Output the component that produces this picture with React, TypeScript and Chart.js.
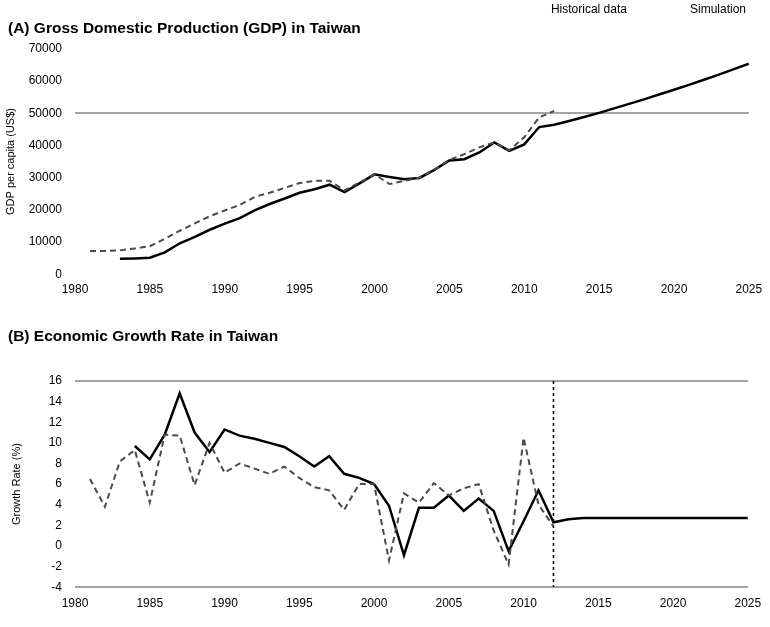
import React, { useEffect, useRef } from "react";
import { Chart, registerables } from "chart.js";

Chart.register(...registerables);

const FONT = "'Liberation Sans', Arial, sans-serif";

// ---------- Data ----------
const X_MIN = 1980;
const X_MAX = 2025;
const X_STEP = 5;

const HIST_GDP_YEARS = [
  1981, 1982, 1983, 1984, 1985, 1986, 1987, 1988, 1989, 1990, 1991, 1992, 1993, 1994, 1995, 1996,
  1997, 1998, 1999, 2000, 2001, 2002, 2003, 2004, 2005, 2006, 2007, 2008, 2009, 2010, 2011, 2012,
];
const HIST_GDP = [
  7200, 7200, 7400, 8000, 8700, 11000, 13500, 15800, 18000, 19800, 21500, 24000, 25300, 26800, 28300, 29000,
  29000, 26000, 28500, 31000, 28000, 29000, 30000, 32500, 35500, 37300, 39400, 40900, 38500, 42500, 48700, 50700,
];

const SIM_GDP_YEARS = [
  1983, 1984, 1985, 1986, 1987, 1988, 1989, 1990, 1991, 1992, 1993, 1994, 1995, 1996, 1997, 1998,
  1999, 2000, 2001, 2002, 2003, 2004, 2005, 2006, 2007, 2008, 2009, 2010, 2011, 2012, 2013, 2014,
  2015, 2016, 2017, 2018, 2019, 2020, 2021, 2022, 2023, 2024, 2025,
];
const SIM_GDP = [
  4800, 4900, 5100, 6800, 9600, 11600, 13800, 15700, 17400, 19800, 21800, 23500, 25300, 26400, 27800, 25500,
  28200, 31000, 30200, 29500, 29900, 32400, 35300, 35700, 37800, 40900, 38300, 40300, 45700, 46400, 47600, 48800,
  50100, 51500, 52900, 54300, 55800, 57300, 58800, 60400, 62000, 63700, 65400,
];

const HIST_GROWTH_YEARS = [
  1981, 1982, 1983, 1984, 1985, 1986, 1987, 1988, 1989, 1990, 1991, 1992, 1993, 1994, 1995, 1996,
  1997, 1998, 1999, 2000, 2001, 2002, 2003, 2004, 2005, 2006, 2007, 2008, 2009, 2010, 2011, 2012,
];
const HIST_GROWTH = [
  6.5, 3.8, 8.2, 9.3, 4.2, 10.8, 10.7, 5.9, 10.0, 7.1, 8.0, 7.5, 7.0, 7.7, 6.6, 5.7,
  5.4, 3.5, 6.0, 6.0, -1.4, 5.1, 4.2, 6.1, 4.9, 5.6, 6.0, 1.5, -1.8, 10.5, 4.0, 1.9,
];

const SIM_GROWTH_YEARS = [
  1984, 1985, 1986, 1987, 1988, 1989, 1990, 1991, 1992, 1993, 1994, 1995, 1996, 1997, 1998, 1999,
  2000, 2001, 2002, 2003, 2004, 2005, 2006, 2007, 2008, 2009, 2010, 2011, 2012, 2013, 2014, 2015,
  2016, 2017, 2018, 2019, 2020, 2021, 2022, 2023, 2024, 2025,
];
const SIM_GROWTH = [
  9.7, 8.4, 10.8, 14.8, 11.0, 9.1, 11.3, 10.7, 10.4, 10.0, 9.6, 8.7, 7.7, 8.7, 7.0, 6.6,
  6.0, 3.9, -0.9, 3.7, 3.7, 4.9, 3.4, 4.6, 3.4, -0.5, 2.4, 5.4, 2.3, 2.6, 2.7, 2.7,
  2.7, 2.7, 2.7, 2.7, 2.7, 2.7, 2.7, 2.7, 2.7, 2.7,
];

const GDP_MIN = 0;
const GDP_MAX = 70000;
const GDP_STEP = 10000;
const GDP_REFERENCE = 50000;

const GROWTH_MIN = -4;
const GROWTH_MAX = 16;
const GROWTH_STEP = 2;

const PROJECTION_START = 2012;

const TITLE_A = "(A) Gross Domestic Production (GDP) in Taiwan";
const TITLE_B = "(B) Economic Growth Rate in Taiwan";
const Y_TITLE_A = "GDP per capita (US$)";
const Y_TITLE_B = "Growth Rate (%)";
const LEGEND_HIST = "Historical data";
const LEGEND_SIM = "Simulation";

// ---------- helpers ----------
const toPoints = (xs: number[], ys: number[]) => xs.map((x, i) => ({ x, y: ys[i] }));

const HIST_STYLE = { borderColor: "#4a4a4a", borderWidth: 2, borderDash: [6, 4], pointRadius: 0, tension: 0 };
const SIM_STYLE = { borderColor: "#000000", borderWidth: 2.5, pointRadius: 0, tension: 0 };

const xScale = (padding: number) => ({
  type: "linear" as const,
  min: X_MIN,
  max: X_MAX,
  ticks: {
    stepSize: X_STEP,
    padding,
    maxRotation: 0,
    color: "#000",
    font: { family: FONT, size: 12 },
    callback: (v: any) => String(v),
  },
  grid: { display: false, drawTicks: false },
  border: { display: false },
});

function ChartA() {
  const ref = useRef<HTMLCanvasElement | null>(null);
  useEffect(() => {
    if (!ref.current) return;
    const chart = new Chart(ref.current, {
      type: "line",
      data: {
        datasets: [
          { label: LEGEND_HIST, data: toPoints(HIST_GDP_YEARS, HIST_GDP), ...HIST_STYLE } as any,
          { label: LEGEND_SIM, data: toPoints(SIM_GDP_YEARS, SIM_GDP), ...SIM_STYLE } as any,
        ],
      },
      options: {
        animation: false,
        responsive: false,
        maintainAspectRatio: false,
        layout: { padding: { left: 8, right: 20, top: 0, bottom: 5.8 } },
        plugins: {
          tooltip: { enabled: false },
          legend: {
            display: true,
            position: "top",
            align: "end",
            weight: 3000,
            maxHeight: 18,
            labels: {
              boxWidth: 53,
              padding: 4,
              color: "#000",
              font: { family: FONT, size: 12 },
              generateLabels: (c: any) =>
                c.data.datasets.map((ds: any, i: number) => ({
                  text: ds.label,
                  fillStyle: "rgba(0,0,0,0)",
                  strokeStyle: "rgba(0,0,0,0)",
                  lineWidth: 0,
                  hidden: false,
                  datasetIndex: i,
                  fontColor: "#000",
                })),
            },
          } as any,
          title: {
            display: true,
            text: TITLE_A,
            align: "start",
            color: "#000",
            font: { family: FONT, size: 15.5, weight: "bold" },
            padding: { top: 1, bottom: 11.2 },
          },
        },
        scales: {
          x: xScale(7.8),
          y: {
            min: GDP_MIN,
            max: GDP_MAX,
            ticks: {
              stepSize: GDP_STEP,
              padding: 13,
              color: "#000",
              font: { family: FONT, size: 12 },
              callback: (v: any) => String(v),
            },
            grid: {
              drawTicks: false,
              lineWidth: 2,
              color: (ctx: any) => (ctx.tick && ctx.tick.value === GDP_REFERENCE ? "#a3a3a3" : "rgba(0,0,0,0)"),
            },
            border: { display: false },
            title: {
              display: true,
              text: Y_TITLE_A,
              color: "#000",
              font: { family: FONT, size: 11 },
              padding: { top: -3.6, bottom: 0 },
            },
            afterFit: (s: any) => {
              s.width = 67;
            },
          },
        },
      } as any,
    });
    return () => chart.destroy();
  }, []);
  return <canvas ref={ref} width={770} height={310} style={{ position: "absolute", left: 0, top: 0 }} />;
}

function ChartB() {
  const ref = useRef<HTMLCanvasElement | null>(null);
  useEffect(() => {
    if (!ref.current) return;
    const chart = new Chart(ref.current, {
      type: "line",
      data: {
        datasets: [
          { label: LEGEND_HIST, data: toPoints(HIST_GROWTH_YEARS, HIST_GROWTH), ...HIST_STYLE } as any,
          { label: LEGEND_SIM, data: toPoints(SIM_GROWTH_YEARS, SIM_GROWTH), ...SIM_STYLE } as any,
          {
            label: "Projection start",
            data: [
              { x: PROJECTION_START, y: GROWTH_MAX },
              { x: PROJECTION_START, y: GROWTH_MIN },
            ],
            borderColor: "#000",
            borderWidth: 1.5,
            borderDash: [3, 3],
            pointRadius: 0,
          } as any,
        ],
      },
      options: {
        animation: false,
        responsive: false,
        maintainAspectRatio: false,
        layout: { padding: { left: 8, right: 20, top: 0, bottom: 7.8 } },
        plugins: {
          tooltip: { enabled: false },
          legend: { display: false },
          title: {
            display: true,
            text: TITLE_B,
            align: "start",
            color: "#000",
            font: { family: FONT, size: 15.5, weight: "bold" },
            padding: { top: 17.7, bottom: 34.7 },
          },
        },
        scales: {
          x: xScale(8.8),
          y: {
            min: GROWTH_MIN,
            max: GROWTH_MAX,
            ticks: {
              stepSize: GROWTH_STEP,
              padding: 13,
              color: "#000",
              font: { family: FONT, size: 12 },
              callback: (v: any) => String(v),
            },
            grid: {
              drawTicks: false,
              lineWidth: 2,
              color: (ctx: any) =>
                ctx.tick && (ctx.tick.value === GROWTH_MAX || ctx.tick.value === GROWTH_MIN)
                  ? "#a3a3a3"
                  : "rgba(0,0,0,0)",
            },
            border: { display: false },
            title: {
              display: true,
              text: Y_TITLE_B,
              color: "#000",
              font: { family: FONT, size: 11 },
              padding: { top: 2.4, bottom: 0 },
            },
            afterFit: (s: any) => {
              s.width = 67;
            },
          },
        },
      } as any,
    });
    return () => chart.destroy();
  }, []);
  return <canvas ref={ref} width={770} height={317} style={{ position: "absolute", left: 0, top: 310 }} />;
}

export default function App() {
  return (
    <div style={{ position: "absolute", left: 0, top: 0, width: 770, height: 627, background: "#fff" }}>
      <ChartA />
      <ChartB />
    </div>
  );
}
